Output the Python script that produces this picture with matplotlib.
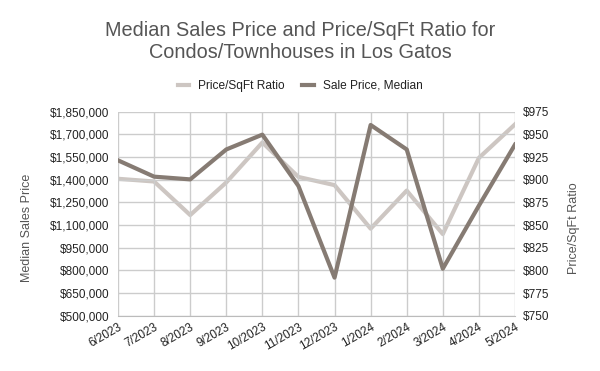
import matplotlib.pyplot as plt
from matplotlib.ticker import FuncFormatter
from matplotlib.lines import Line2D

plt.rcParams['font.family'] = ['Liberation Sans', 'DejaVu Sans']

months = ['6/2023', '7/2023', '8/2023', '9/2023', '10/2023', '11/2023',
          '12/2023', '1/2024', '2/2024', '3/2024', '4/2024', '5/2024']
sale_price = [1528000, 1420000, 1402000, 1600000, 1698000, 1358000,
              752000, 1762000, 1600000, 811000, 1228000, 1632000]
price_sqft = [901, 898, 861, 897, 941, 903, 894, 846, 888, 840, 924, 961]
left_ticks = [500000, 650000, 800000, 950000, 1100000, 1250000,
              1400000, 1550000, 1700000, 1850000]
right_ticks = [750, 775, 800, 825, 850, 875, 900, 925, 950, 975]

light = '#cdc6c2'
dark = '#867b73'

fig = plt.figure(figsize=(6, 3.71), dpi=100)
ax = fig.add_axes([0.1967, 0.149, 0.6616, 0.550])
ax2 = ax.twinx()

x = range(len(months))
ax.plot(x, sale_price, color=dark, linewidth=3, zorder=3)
ax2.plot(x, price_sqft, color=light, linewidth=3, zorder=2)
# dark line on top of the light one
ax.set_zorder(ax2.get_zorder() + 1)
ax.patch.set_visible(False)

money = FuncFormatter(lambda v, p: '${:,.0f}'.format(v))
ax.set_xlim(0, len(months) - 1)
ax.set_ylim(left_ticks[0], left_ticks[-1])
ax.set_yticks(left_ticks)
ax.yaxis.set_major_formatter(money)
ax2.set_ylim(right_ticks[0], right_ticks[-1])
ax2.set_yticks(right_ticks)
ax2.yaxis.set_major_formatter(money)

ax.set_xticks(list(x))
ax.set_xticklabels(months, rotation=30, ha='right', rotation_mode='anchor')

ax.grid(True, color='#cccccc', linewidth=1)
for a in (ax, ax2):
    for s in a.spines.values():
        s.set_visible(False)
    a.tick_params(length=0, labelsize=8.5, colors='#222222')
ax.spines['bottom'].set_visible(True)
ax.spines['bottom'].set_color('#bbbbbb')
ax.tick_params(axis='y', pad=6)
ax2.tick_params(axis='y', pad=6)
ax.tick_params(axis='x', pad=4)

fig.text(0.045, 0.385, 'Median Sales Price', rotation=90, ha='center', va='center',
         fontsize=9, color='#555555')
fig.text(0.957, 0.385, 'Price/SqFt Ratio', rotation=90, ha='center', va='center',
         fontsize=9, color='#555555')

fig.text(0.5, 0.888, 'Median Sales Price and Price/SqFt Ratio for\nCondos/Townhouses in Los Gatos',
         ha='center', va='center', fontsize=14.3, color='#555555', linespacing=1.15)

handles = [Line2D([], [], color=light, linewidth=3),
           Line2D([], [], color=dark, linewidth=3)]
fig.legend(handles, ['Price/SqFt Ratio', 'Sale Price, Median'], loc='center',
           bbox_to_anchor=(0.5, 0.769), ncol=2, frameon=False, fontsize=8.6,
           handlelength=1.0, handletextpad=0.75, columnspacing=1.4,
           labelcolor='#222222')

fig.savefig('out.png', dpi=100)
